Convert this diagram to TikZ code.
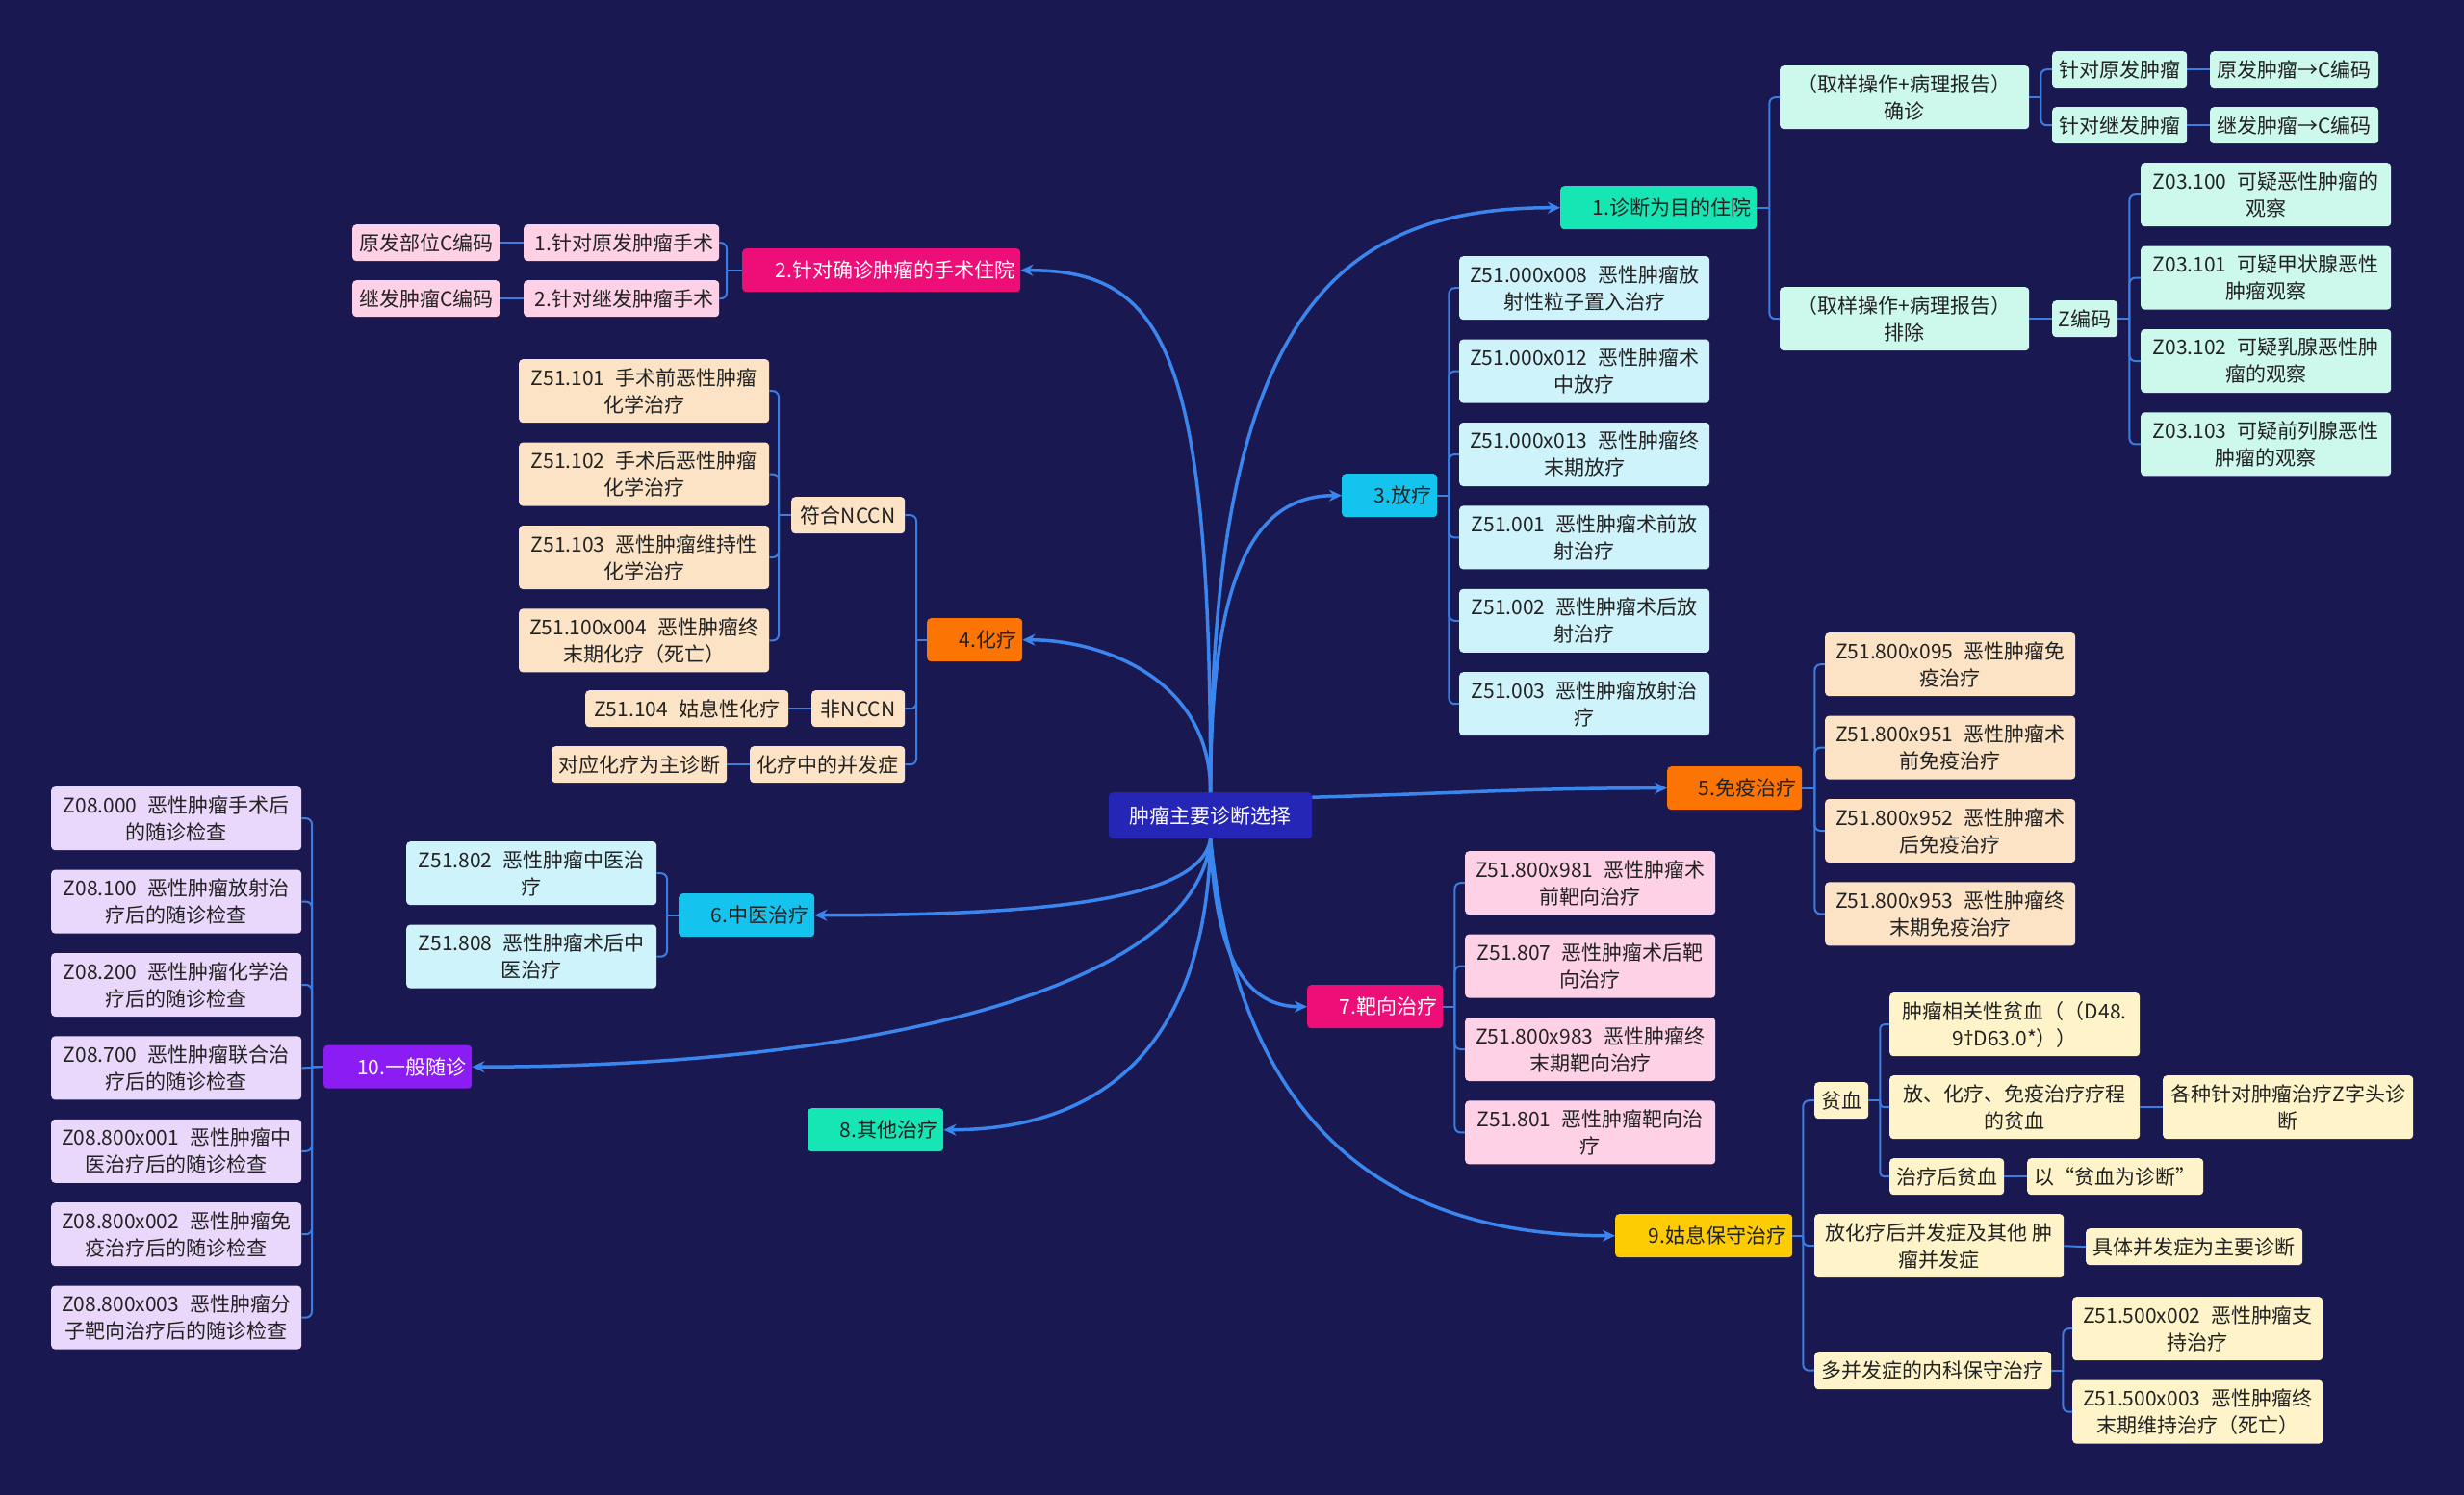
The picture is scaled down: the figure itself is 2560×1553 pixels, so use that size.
\documentclass[tikz,border=0pt]{standalone}
\usepackage{fontspec}
\setmainfont{Noto Sans CJK SC}
\newfontfamily\latinfont{Noto Sans}
\usepackage{xcolor}
\usetikzlibrary{arrows.meta, positioning}

\definecolor{bgnavy}{HTML}{1A1850}
\definecolor{rootblue}{HTML}{2626B6}
\definecolor{curveblue}{HTML}{3A86EE}
\definecolor{linkblue}{HTML}{3B7DE0}
\definecolor{inkdark}{HTML}{222222}
\definecolor{mintA}{HTML}{16E6B4}
\definecolor{magentaA}{HTML}{EE0E78}
\definecolor{cyanA}{HTML}{14C4EE}
\definecolor{orangeA}{HTML}{FC7404}
\definecolor{goldA}{HTML}{FDCC02}
\definecolor{purpleA}{HTML}{8B1CF4}
\definecolor{mintL}{HTML}{CDF8EC}
\definecolor{pinkL}{HTML}{FED1E6}
\definecolor{cyanL}{HTML}{CFF3FB}
\definecolor{peachL}{HTML}{FDE3C6}
\definecolor{yellowL}{HTML}{FFF4C9}
\definecolor{lavL}{HTML}{EAD7FC}

\newcommand{\codegap}{\hspace{11pt}}

\tikzstyle{root}    = [rectangle, rounded corners=4pt, fill=rootblue, text=white,
                       minimum width=211pt, minimum height=48pt, inner sep=4pt]
\tikzstyle{twoline} = [minimum width=260pt, minimum height=66pt]
\tikzstyle{link}    = [draw=linkblue, line width=2pt, rounded corners=6pt]
\tikzstyle{branch}  = [draw=curveblue, line width=3.5pt, -{Stealth[length=13pt, width=12pt]}]
\tikzset{
    topic/.style={rectangle, rounded corners=4pt, fill=#1, text=inkdark, minimum height=45pt,
                  inner xsep=6pt, inner ysep=2pt, align=right},
    leaf/.style={rectangle, rounded corners=4pt, fill=#1, text=inkdark, minimum height=38pt,
                 inner sep=4pt, align=center}
}

\begin{document}
\begin{tikzpicture}[x=1pt, y=1pt, font=\fontsize{21}{28}\selectfont]
    \fill[bgnavy] (0,0) rectangle (2560,-1553);

    \node (root) [root, anchor=north west] at (1152,-823) {肿瘤主要诊断选择};

    % main topics
    \node (d1) [topic=mintA, text width=192pt, anchor=north west] at (1621,-193) {1.诊断为目的住院};
    \node (d2) [topic=magentaA, text=white, text width=277pt, anchor=north west] at (771,-258) {2.针对确诊肿瘤的手术住院};
    \node (d3) [topic=cyanA, text width=87pt, anchor=north west] at (1394,-492) {3.放疗};
    \node (d4) [topic=orangeA, text width=87pt, anchor=north west] at (963,-642) {4.化疗};
    \node (d5) [topic=orangeA, text width=128pt, anchor=north west] at (1732,-796) {5.免疫治疗};
    \node (d6) [topic=cyanA, text width=129pt, anchor=north west] at (705,-928) {6.中医治疗};
    \node (d7) [topic=magentaA, text=white, text width=129pt, anchor=north west] at (1358,-1023) {7.靶向治疗};
    \node (d8) [topic=mintA, text width=129pt, anchor=north west] at (839,-1151) {8.其他治疗};
    \node (d9) [topic=goldA, text width=172pt, anchor=north west] at (1678,-1261) {9.姑息保守治疗};
    \node (d10) [topic=purpleA, text=white, text width=142pt, anchor=north west] at (336,-1085.5) {10.一般随诊};

    % 1
    \node (a1) [leaf=mintL, minimum width=259pt, minimum height=66pt, anchor=north west] at (1849,-68) {（取样操作+病理报告）\\确诊};
    \node (a2) [leaf=mintL, minimum width=259pt, minimum height=66pt, anchor=north west] at (1849,-298) {（取样操作+病理报告）\\排除};
    \node (a11) [leaf=mintL, minimum width=140pt, anchor=north west] at (2132,-53) {针对原发肿瘤};
    \node (a12) [leaf=mintL, minimum width=140pt, anchor=north west] at (2132,-111) {针对继发肿瘤};
    \node (a111) [leaf=mintL, minimum width=175pt, anchor=north west] at (2296,-53) {原发肿瘤→C编码};
    \node (a121) [leaf=mintL, minimum width=175pt, anchor=north west] at (2296,-111) {继发肿瘤→C编码};
    \node (a21) [leaf=mintL, minimum width=68pt, anchor=north west] at (2132,-312) {Z编码};
    \node (z1) [leaf=mintL, twoline, anchor=north west] at (2224,-169) {Z03.100\codegap 可疑恶性肿瘤的\\观察};
    \node (z2) [leaf=mintL, twoline, below=20pt of z1] {Z03.101\codegap 可疑甲状腺恶性\\肿瘤观察};
    \node (z3) [leaf=mintL, twoline, below=20pt of z2] {Z03.102\codegap 可疑乳腺恶性肿\\瘤的观察};
    \node (z4) [leaf=mintL, twoline, below=20pt of z3] {Z03.103\codegap 可疑前列腺恶性\\肿瘤的观察};

    % 2
    \node (b1) [leaf=pinkL, align=right, text width=191pt, inner xsep=6pt, anchor=north west] at (544,-233) {1.针对原发肿瘤手术};
    \node (b2) [leaf=pinkL, align=right, text width=191pt, inner xsep=6pt, anchor=north west] at (544,-291) {2.针对继发肿瘤手术};
    \node (b11) [leaf=pinkL, minimum width=153pt, anchor=north west] at (366,-233) {原发部位C编码};
    \node (b21) [leaf=pinkL, minimum width=153pt, anchor=north west] at (366,-291) {继发肿瘤C编码};

    % 3
    \node (r1) [leaf=cyanL, twoline, anchor=north west] at (1516,-266) {Z51.000x008\codegap 恶性肿瘤放\\射性粒子置入治疗};
    \node (r2) [leaf=cyanL, twoline, below=20pt of r1] {Z51.000x012\codegap 恶性肿瘤术\\中放疗};
    \node (r3) [leaf=cyanL, twoline, below=20pt of r2] {Z51.000x013\codegap 恶性肿瘤终\\末期放疗};
    \node (r4) [leaf=cyanL, twoline, below=20pt of r3] {Z51.001\codegap 恶性肿瘤术前放\\射治疗};
    \node (r5) [leaf=cyanL, twoline, below=20pt of r4] {Z51.002\codegap 恶性肿瘤术后放\\射治疗};
    \node (r6) [leaf=cyanL, twoline, below=20pt of r5] {Z51.003\codegap 恶性肿瘤放射治\\疗};

    % 4
    \node (c1) [leaf=peachL, minimum width=118pt, anchor=north west] at (822,-516) {符合NCCN};
    \node (c11) [leaf=peachL, twoline, anchor=north west] at (539,-373) {Z51.101\codegap 手术前恶性肿瘤\\化学治疗};
    \node (c12) [leaf=peachL, twoline, below=20pt of c11] {Z51.102\codegap 手术后恶性肿瘤\\化学治疗};
    \node (c13) [leaf=peachL, twoline, below=20pt of c12] {Z51.103\codegap 恶性肿瘤维持性\\化学治疗};
    \node (c14) [leaf=peachL, twoline, below=20pt of c13] {Z51.100x004\codegap 恶性肿瘤终\\末期化疗（死亡）};
    \node (c2) [leaf=peachL, minimum width=97pt, anchor=north west] at (843,-717) {非NCCN};
    \node (c21) [leaf=peachL, minimum width=211pt, anchor=north west] at (608,-717) {Z51.104\codegap 姑息性化疗};
    \node (c3) [leaf=peachL, minimum width=161pt, anchor=north west] at (779,-775) {化疗中的并发症};
    \node (c31) [leaf=peachL, minimum width=182pt, anchor=north west] at (573,-775) {对应化疗为主诊断};

    % 5
    \node (e1) [leaf=peachL, twoline, anchor=north west] at (1896,-657) {Z51.800x095\codegap 恶性肿瘤免\\疫治疗};
    \node (e2) [leaf=peachL, twoline, below=20pt of e1] {Z51.800x951\codegap 恶性肿瘤术\\前免疫治疗};
    \node (e3) [leaf=peachL, twoline, below=20pt of e2] {Z51.800x952\codegap 恶性肿瘤术\\后免疫治疗};
    \node (e4) [leaf=peachL, twoline, below=20pt of e3] {Z51.800x953\codegap 恶性肿瘤终\\末期免疫治疗};

    % 6
    \node (f1) [leaf=cyanL, twoline, anchor=north west] at (422,-874) {Z51.802\codegap 恶性肿瘤中医治\\疗};
    \node (f2) [leaf=cyanL, twoline, below=20pt of f1] {Z51.808\codegap 恶性肿瘤术后中\\医治疗};

    % 7
    \node (g1) [leaf=pinkL, twoline, anchor=north west] at (1522,-884) {Z51.800x981\codegap 恶性肿瘤术\\前靶向治疗};
    \node (g2) [leaf=pinkL, twoline, below=20pt of g1] {Z51.807\codegap 恶性肿瘤术后靶\\向治疗};
    \node (g3) [leaf=pinkL, twoline, below=20pt of g2] {Z51.800x983\codegap 恶性肿瘤终\\末期靶向治疗};
    \node (g4) [leaf=pinkL, twoline, below=20pt of g3] {Z51.801\codegap 恶性肿瘤靶向治\\疗};

    % 9
    \node (h1) [leaf=yellowL, minimum width=56pt, anchor=north west] at (1885,-1124) {贫血};
    \node (h11) [leaf=yellowL, twoline, anchor=north west] at (1963,-1031) {肿瘤相关性贫血（（D48.\\9{\latinfont †}D63.0*））};
    \node (h12) [leaf=yellowL, twoline, anchor=north west] at (1963,-1117) {放、化疗、免疫治疗疗程\\的贫血};
    \node (h121) [leaf=yellowL, twoline, anchor=north west] at (2247,-1117) {各种针对肿瘤治疗Z字头诊\\断};
    \node (h13) [leaf=yellowL, minimum width=119pt, anchor=north west] at (1963,-1203) {治疗后贫血};
    \node (h131) [leaf=yellowL, minimum width=183pt, anchor=north west] at (2106,-1203) {以“贫血为诊断”};
    \node (h2) [leaf=yellowL, minimum width=259pt, minimum height=66pt, anchor=north west] at (1885,-1261) {放化疗后并发症及其他 肿\\瘤并发症};
    \node (h21) [leaf=yellowL, minimum width=225pt, anchor=north west] at (2167,-1276) {具体并发症为主要诊断};
    \node (h3) [leaf=yellowL, minimum width=246pt, minimum height=39pt, anchor=north west] at (1885,-1404) {多并发症的内科保守治疗};
    \node (h31) [leaf=yellowL, twoline, anchor=north west] at (2153,-1347) {Z51.500x002\codegap 恶性肿瘤支\\持治疗};
    \node (h32) [leaf=yellowL, twoline, below=20pt of h31] {Z51.500x003\codegap 恶性肿瘤终\\末期维持治疗（死亡）};

    % 10
    \node (k1) [leaf=lavL, twoline, anchor=north west] at (53,-817) {Z08.000\codegap 恶性肿瘤手术后\\的随诊检查};
    \node (k2) [leaf=lavL, twoline, below=20pt of k1] {Z08.100\codegap 恶性肿瘤放射治\\疗后的随诊检查};
    \node (k3) [leaf=lavL, twoline, below=20pt of k2] {Z08.200\codegap 恶性肿瘤化学治\\疗后的随诊检查};
    \node (k4) [leaf=lavL, twoline, below=20pt of k3] {Z08.700\codegap 恶性肿瘤联合治\\疗后的随诊检查};
    \node (k5) [leaf=lavL, twoline, below=20pt of k4] {Z08.800x001\codegap 恶性肿瘤中\\医治疗后的随诊检查};
    \node (k6) [leaf=lavL, twoline, below=20pt of k5] {Z08.800x002\codegap 恶性肿瘤免\\疫治疗后的随诊检查};
    \node (k7) [leaf=lavL, twoline, below=20pt of k6] {Z08.800x003\codegap 恶性肿瘤分\\子靶向治疗后的随诊检查};

    % root to topics
    \draw[branch] (root.north) .. controls +(0,500) and +(-230,0) .. (d1.west);
    \draw[branch] (root.north) .. controls +(0,460) and +(150,0) .. (d2.east);
    \draw[branch] (root.north) .. controls +(0,230) and +(-90,0) .. (d3.west);
    \draw[branch] (root.north) .. controls +(0,120) and +(80,0) .. (d4.east);
    \draw[branch] ([yshift=19pt]root.east) .. controls +(150,4) and +(-150,0) .. (d5.west);
    \draw[branch] (root.south) .. controls +(-10,-60) and +(260,0) .. (d6.east);
    \draw[branch] (root.south) .. controls +(5,-130) and +(-60,0) .. (d7.west);
    \draw[branch] (root.south) .. controls +(-5,-230) and +(150,0) .. (d8.east);
    \draw[branch] (root.south) .. controls +(20,-200) and +(-320,0) .. (d9.west);
    \draw[branch] (root.south) .. controls +(-15,-160) and +(400,0) .. (d10.east);

    % tree links
    \draw[link] (d1.east) -- ++(13,0) coordinate (d1t);
    \foreach \n in {a1,a2} \draw[link] (d1t) |- (\n.west);
    \draw[link] (a1.east) -- ++(12,0) coordinate (a1t);
    \foreach \n in {a11,a12} \draw[link] (a1t) |- (\n.west);
    \draw[link] (a11.east) -- (a111.west);
    \draw[link] (a12.east) -- (a121.west);
    \draw[link] (a2.east) -- (a21.west);
    \draw[link] (a21.east) -- ++(12,0) coordinate (a21t);
    \foreach \n in {z1,z2,z3,z4} \draw[link] (a21t) |- (\n.west);

    \draw[link] (d2.west) -- ++(-16,0) coordinate (d2t);
    \foreach \n in {b1,b2} \draw[link] (d2t) |- (\n.east);
    \draw[link] (b1.west) -- (b11.east);
    \draw[link] (b2.west) -- (b21.east);

    \draw[link] (d3.east) -- ++(12,0) coordinate (d3t);
    \foreach \n in {r1,r2,r3,r4,r5,r6} \draw[link] (d3t) |- (\n.west);

    \draw[link] (d4.west) -- ++(-11,0) coordinate (d4t);
    \foreach \n in {c1,c2,c3} \draw[link] (d4t) |- (\n.east);
    \draw[link] (c1.west) -- ++(-13,0) coordinate (c1t);
    \foreach \n in {c11,c12,c13,c14} \draw[link] (c1t) |- (\n.east);
    \draw[link] (c2.west) -- (c21.east);
    \draw[link] (c3.west) -- (c31.east);

    \draw[link] (d5.east) -- ++(13,0) coordinate (d5t);
    \foreach \n in {e1,e2,e3,e4} \draw[link] (d5t) |- (\n.west);

    \draw[link] (d6.west) -- ++(-12,0) coordinate (d6t);
    \foreach \n in {f1,f2} \draw[link] (d6t) |- (\n.east);

    \draw[link] (d7.east) -- ++(12,0) coordinate (d7t);
    \foreach \n in {g1,g2,g3,g4} \draw[link] (d7t) |- (\n.west);

    \draw[link] (d9.east) -- ++(11,0) coordinate (d9t);
    \foreach \n in {h1,h2,h3} \draw[link] (d9t) |- (\n.west);
    \draw[link, rounded corners=4pt] (h1.east) -- ++(12,0) coordinate (h1t);
    \foreach \n in {h11,h12,h13} \draw[link, rounded corners=4pt] (h1t) |- (\n.west);
    \draw[link] (h12.east) -- (h121.west);
    \draw[link] (h13.east) -- (h131.west);
    \draw[link] (h2.east) -- (h21.west);
    \draw[link] (h3.east) -- ++(12,0) coordinate (h3t);
    \foreach \n in {h31,h32} \draw[link] (h3t) |- (\n.west);

    \draw[link] (d10.west) -- (k4.east);
    \draw[link] (d10.west) -- ++(-12,0) coordinate (d10t);
    \foreach \n in {k1,k2,k3,k5,k6,k7} \draw[link] (d10t) |- (\n.east);
\end{tikzpicture}
\end{document}
